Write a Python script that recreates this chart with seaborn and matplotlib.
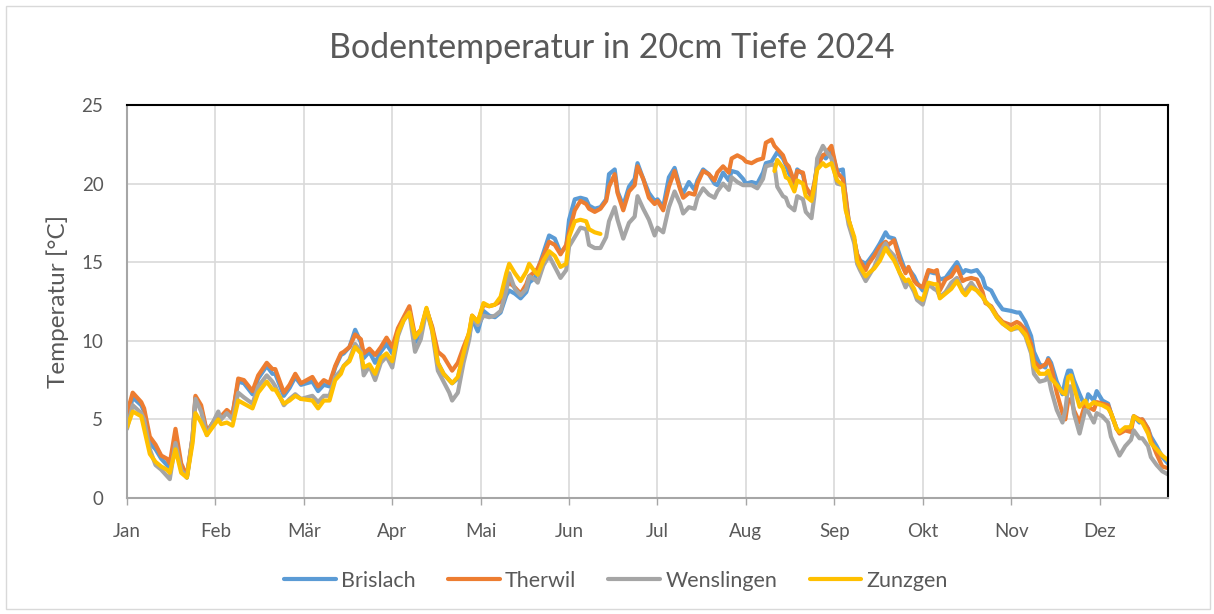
import numpy as np
import pandas as pd
import matplotlib
matplotlib.use("Agg")
import matplotlib.pyplot as plt
from matplotlib.patches import Rectangle
import seaborn as sns

days = [
    0, 2, 5, 6, 8, 10, 12, 14, 15, 17, 19, 21, 23, 24, 26, 28, 32, 33, 35, 37,
    39, 41, 44, 46, 49, 51, 52, 55, 57, 59, 61,
    65, 67, 69, 71, 73, 75, 76, 78, 80, 82, 83, 85, 87, 89, 91, 93, 95, 97, 99, 101,
    103, 105, 107, 109, 111, 113, 114, 116, 118, 120, 121, 123,
    125, 127, 129, 131, 133, 134, 136, 138, 140, 141, 143, 144, 146, 148, 150, 152, 154, 155, 157, 159,
    161, 162, 164, 166, 168, 169, 171, 172, 174, 176, 178, 179, 181, 183, 185, 186, 188,
    190, 192, 194, 195, 197, 199, 200, 202, 204, 206, 207, 209, 211, 212, 214, 216, 217, 219, 221, 223,
    224, 226, 227, 228, 230, 231, 232, 234, 235, 237, 238, 240, 241, 242, 244, 245, 247,
    249, 251, 252, 253, 255, 256, 257, 259, 260, 262, 264, 266, 267, 269, 271, 273, 274, 276, 277, 279,
    281, 283, 284, 285, 287, 289, 291, 293, 294, 296, 298, 300, 301, 303, 305, 307,
    310, 312, 313, 315, 317, 318, 320, 322, 323, 324, 326, 328, 329, 330, 331, 332, 334, 336, 337, 339,
    340, 342, 344, 345, 347, 348, 350, 352, 353, 355, 356, 358, 359, 361, 363, 365,
]

brislach = [
    4.9, 6.4, 5.9, 5.5, 3.5, 3.1, 2.5, 2.1, 1.9, 4.0, 1.9, 1.3, 3.8, 6.4, 5.7, 4.2, 5.3, 5.1, 5.5, 5.3,
    7.4, 7.3, 6.6, 7.6, 8.4, 7.9, 7.9, 6.5, 7.0, 7.7, 7.2,
    7.4, 6.8, 7.2, 7.1, 8.3, 9.1, 9.2, 9.6, 10.7, 9.9, 8.9, 9.3, 8.6, 9.3, 9.8, 9.2, 10.6, 11.4, 12.0, 9.9,
    10.5, 12.0, 10.8, 8.6, 7.9, 7.5, 7.3, 7.6, 9.2, 10.3, 11.4, 10.6,
    11.9, 11.6, 11.5, 11.8, 12.9, 13.2, 13.0, 12.7, 13.1, 13.7, 14.0, 14.5, 15.6, 16.7, 16.5, 15.6, 16.0, 17.7, 19.0, 19.1,
    19.0, 18.6, 18.4, 18.5, 19.0, 20.6, 20.9, 19.5, 18.6, 19.8, 20.3, 21.3, 20.3, 19.4, 18.9, 19.0, 18.5,
    20.4, 21.0, 19.7, 19.4, 20.1, 19.6, 20.2, 20.9, 20.6, 20.0, 19.9, 20.7, 20.2, 20.8, 20.7, 20.3, 20.0, 20.1, 20.0, 20.7,
    21.3, 21.4, 21.7, 22.0, 21.6, 21.2, 20.7, 19.9, 20.9, 20.6, 19.7, 19.2, 20.0, 21.2, 21.8, 21.6, 22.1,
    20.8, 20.9, 19.0, 17.7, 16.4, 15.5, 15.1, 14.9, 15.1, 15.6, 16.2, 16.9, 16.6, 16.5, 15.4, 14.4, 14.6, 14.1, 13.7, 13.2,
    14.4, 14.3, 14.3, 13.9, 14.0, 14.5, 15.0, 14.3, 14.5, 14.4, 14.5, 14.0, 13.4, 13.2, 12.5, 12.0,
    11.9, 11.8, 11.8, 11.2, 10.3, 9.3, 8.5, 8.3, 8.9, 8.6, 7.4, 6.6, 7.5, 8.1, 8.1, 7.5, 6.6, 5.8, 6.6, 6.2,
    6.8, 6.2, 6.0, 5.4, 4.4, 4.2, 4.4, 4.5, 5.2, 4.8, 5.0, 4.4, 3.9, 3.3, 2.6, 2.2,
]

therwil = [
    5.4, 6.7, 6.1, 5.7, 3.9, 3.4, 2.7, 2.5, 2.2, 4.4, 2.2, 1.4, 3.9, 6.5, 5.9, 4.2, 5.3, 5.2, 5.6, 5.3,
    7.6, 7.5, 6.8, 7.8, 8.6, 8.2, 8.2, 6.7, 7.2, 7.9, 7.3,
    7.7, 7.1, 7.5, 7.3, 8.4, 9.2, 9.3, 9.6, 10.4, 10.1, 9.2, 9.5, 9.1, 9.6, 10.2, 9.6, 10.8, 11.5, 12.2, 10.3,
    10.7, 12.0, 10.9, 9.3, 9.0, 8.4, 8.1, 8.6, 9.6, 10.5, 11.6, 11.2,
    12.3, 12.2, 12.3, 12.5, 13.4, 13.7, 13.4, 13.0, 13.6, 14.1, 14.4, 14.6, 15.4, 16.3, 16.1, 15.5, 16.1, 16.9, 18.3, 18.9,
    18.7, 18.4, 18.2, 18.4, 18.9, 19.8, 20.6, 19.4, 18.3, 19.5, 19.9, 21.1, 20.3, 19.1, 18.7, 18.9, 18.3,
    19.8, 20.8, 19.6, 19.1, 19.4, 19.3, 20.0, 20.8, 20.6, 20.2, 20.7, 21.1, 20.7, 21.6, 21.8, 21.6, 21.4, 21.3, 21.5, 21.6,
    22.6, 22.8, 22.4, 22.2, 21.8, 21.3, 21.1, 20.1, 20.8, 20.7, 19.8, 19.2, 20.0, 21.1, 21.8, 21.9, 22.4,
    20.7, 20.3, 19.2, 17.7, 16.4, 15.5, 15.1, 14.5, 14.9, 15.4, 16.0, 16.3, 16.1, 16.4, 15.1, 14.3, 14.7, 13.8, 13.6, 13.4,
    14.5, 14.4, 14.5, 13.2, 13.9, 14.1, 14.7, 13.8, 13.9, 14.0, 13.9, 13.1, 12.4, 12.2, 11.6, 11.2,
    11.0, 11.2, 11.1, 10.7, 9.8, 8.7, 8.3, 8.5, 8.8, 8.4, 6.7, 5.4, 5.0, 6.2, 6.3, 5.6, 4.8, 6.0, 5.8, 5.6,
    6.1, 6.0, 5.9, 5.4, 4.4, 4.1, 4.3, 4.2, 5.2, 5.0, 5.0, 4.4, 3.7, 2.8, 2.0, 1.9,
]

wenslingen = [
    4.4, 5.9, 5.4, 5.0, 3.1, 2.1, 1.8, 1.4, 1.2, 3.5, 1.8, 1.3, 3.9, 6.3, 5.5, 4.0, 5.5, 5.0, 5.4, 5.0,
    6.7, 6.4, 6.0, 7.1, 7.8, 7.4, 7.1, 5.9, 6.3, 6.6, 6.3,
    6.5, 6.1, 6.5, 6.5, 7.7, 8.1, 8.4, 8.8, 9.8, 9.3, 7.8, 8.4, 7.5, 8.6, 9.0, 8.3, 10.3, 11.3, 11.8, 9.3,
    10.1, 12.0, 10.6, 8.1, 7.4, 6.7, 6.2, 6.7, 8.6, 10.1, 11.5, 11.0,
    11.6, 11.5, 11.6, 11.9, 13.2, 14.3, 13.3, 12.9, 13.3, 14.1, 13.9, 13.7, 14.8, 15.4, 14.7, 14.0, 14.5, 16.0, 16.6, 17.2,
    17.1, 16.1, 15.9, 15.9, 16.6, 17.6, 18.5, 17.7, 16.5, 17.5, 17.9, 19.2, 18.4, 17.7, 16.7, 17.2, 16.9,
    18.5, 19.5, 18.7, 18.1, 18.5, 18.4, 19.1, 19.7, 19.3, 19.1, 19.5, 20.0, 19.6, 20.4, 20.1, 19.9, 19.9, 19.9, 19.7, 20.3,
    21.1, 21.2, 21.2, 19.8, 19.2, 19.1, 18.6, 18.3, 19.2, 19.0, 18.2, 17.8, 19.2, 21.6, 22.4, 22.1, 21.6,
    20.0, 19.9, 18.5, 17.4, 16.2, 14.9, 14.5, 13.8, 14.1, 14.7, 15.6, 16.2, 15.8, 15.4, 14.3, 13.4, 13.8, 13.1, 12.6, 12.3,
    13.6, 13.3, 13.2, 12.8, 13.1, 13.7, 14.0, 13.2, 13.2, 13.7, 13.2, 12.8, 12.5, 12.1, 11.5, 11.1,
    10.7, 10.8, 10.8, 10.3, 9.2, 7.9, 7.4, 7.5, 7.8, 6.9, 5.6, 4.8, 5.6, 7.1, 7.1, 5.4, 4.1, 5.6, 5.5, 4.8,
    5.4, 5.2, 4.8, 3.9, 3.1, 2.7, 3.3, 3.7, 4.3, 3.8, 3.8, 3.3, 2.6, 2.1, 1.7, 1.5,
]

nan = np.nan
zunzgen = [
    4.5, 5.5, 5.2, 4.4, 2.8, 2.3, 2.0, 1.8, 1.6, 3.1, 1.6, 1.3, 3.5, 5.4, 4.8, 4.0, 5.0, 4.7, 4.8, 4.6,
    6.2, 6.0, 5.7, 6.7, 7.4, 6.9, 6.9, 6.0, 6.2, 6.5, 6.3,
    6.2, 5.7, 6.2, 6.2, 7.5, 7.9, 8.4, 8.7, 9.6, 9.2, 8.3, 8.5, 7.9, 8.9, 9.2, 8.7, 10.5, 11.3, 11.8, 10.2,
    10.7, 12.1, 10.7, 8.6, 7.9, 7.5, 7.3, 7.7, 9.2, 10.6, 11.6, 11.2,
    12.4, 12.2, 12.3, 12.8, 14.3, 14.9, 14.3, 13.8, 14.4, 14.9, 14.4, 14.2, 15.1, 15.7, 15.4, 14.7, 14.9, 16.6, 17.6, 17.7,
    17.6, 17.1, 16.9, 16.8, nan, nan, nan, nan, nan, nan, nan, nan, nan, nan, nan, nan, nan,
    nan, nan, nan, nan, nan, nan, nan, nan, nan, nan, nan, nan, nan, nan, nan, nan, nan, nan, nan, nan,
    nan, nan, 20.8, 21.5, 21.0, 20.4, 20.3, 19.5, 20.2, 20.0, 19.2, 18.9, 19.8, 20.9, 21.3, 21.1, 21.3,
    20.2, 19.9, 18.3, 17.7, 16.6, 15.1, 14.7, 14.1, 14.3, 14.6, 15.1, 15.9, 15.6, 15.1, 14.3, 13.8, 13.9, 13.3, 12.8, 12.6,
    13.7, 13.6, 13.6, 12.7, 13.0, 13.3, 13.8, 13.1, 12.9, 13.4, 13.2, 12.8, 12.5, 12.1, 11.5, 11.1,
    10.7, 10.9, 10.8, 10.4, 9.4, 8.4, 7.9, 7.9, 8.1, 7.6, 7.2, 6.7, 6.6, 7.7, 7.8, 7.1, 5.8, 6.2, 5.8, 6.1,
    6.0, 5.9, 5.7, 5.4, 4.4, 4.2, 4.5, 4.5, 5.2, 4.9, 4.8, 4.1, 3.5, 3.1, 2.7, 2.4,
]

stations = ["Brislach", "Therwil", "Wenslingen", "Zunzgen"]
colors = ["#5B9BD5", "#ED7D31", "#A5A5A5", "#FFC000"]
months = ["Jan", "Feb", "Mär", "Apr", "Mai", "Jun", "Jul", "Aug", "Sep", "Okt", "Nov", "Dez"]
month_ticks = [31 * i for i in range(12)]

df = pd.DataFrame({"day": days, "Brislach": brislach, "Therwil": therwil,
                   "Wenslingen": wenslingen, "Zunzgen": zunzgen})
df = df.melt(id_vars="day", var_name="station", value_name="temp").dropna()
# a missing stretch starts a new line piece, so the gap stays open
df["segment"] = df.groupby("station")["day"].transform(lambda s: (s.diff() > 10).cumsum())

sns.set_theme(style="white")
plt.rcParams["font.family"] = ["Lato", "DejaVu Sans"]
text_col = "#595959"

fig = plt.figure(figsize=(12.14, 6.14), dpi=100)
ax = fig.add_axes([127 / 1214, 1 - 498 / 614, (1168 - 127) / 1214, (498 - 105) / 614])

sns.lineplot(data=df, x="day", y="temp", hue="station", hue_order=stations,
             palette=colors, units="segment", estimator=None, lw=3.0,
             solid_joinstyle="round", solid_capstyle="round", ax=ax)

ax.set_xlim(0, 365)
ax.set_ylim(0, 25)
ax.set_yticks(range(0, 26, 5))
ax.set_xticks(month_ticks)
ax.set_xticklabels(months)
ax.grid(True, color="#D9D9D9", lw=1.2)
ax.set_axisbelow(True)
ax.tick_params(axis="x", length=5, width=1, color="#A6A6A6", direction="out",
               pad=13, labelsize=13.5, labelcolor=text_col, bottom=True)
ax.tick_params(axis="y", length=0, pad=17, labelsize=13.5, labelcolor=text_col)
ax.set_xlabel("")
ax.set_ylabel("Temperatur [°C]", fontsize=17.5, color=text_col, labelpad=9)

for side in ["top", "right"]:
    ax.spines[side].set_color("black")
    ax.spines[side].set_linewidth(1.5)
for side in ["left", "bottom"]:
    ax.spines[side].set_color("#A6A6A6")
    ax.spines[side].set_linewidth(1.5)

sns.move_legend(ax, "center", bbox_to_anchor=((616 - 127) / 1041, (498 - 581) / 393),
                ncol=4, frameon=False, title=None, fontsize=15.5,
                handlelength=2.4, handletextpad=0.25, columnspacing=1.5)
for t in ax.get_legend().get_texts():
    t.set_color(text_col)
for h in ax.get_legend().get_lines():
    h.set_linewidth(3)

fig.text(612 / 1214, 1 - 48 / 614, "Bodentemperatur in 20cm Tiefe 2024",
         ha="center", va="center", fontsize=24.5, color=text_col)

fig.patches.append(Rectangle((6 / 1214, 5 / 614), 1204 / 1214, 603 / 614,
                             transform=fig.transFigure, fill=False,
                             edgecolor="#D9D9D9", lw=1))

fig.savefig("out.png", dpi=100)
